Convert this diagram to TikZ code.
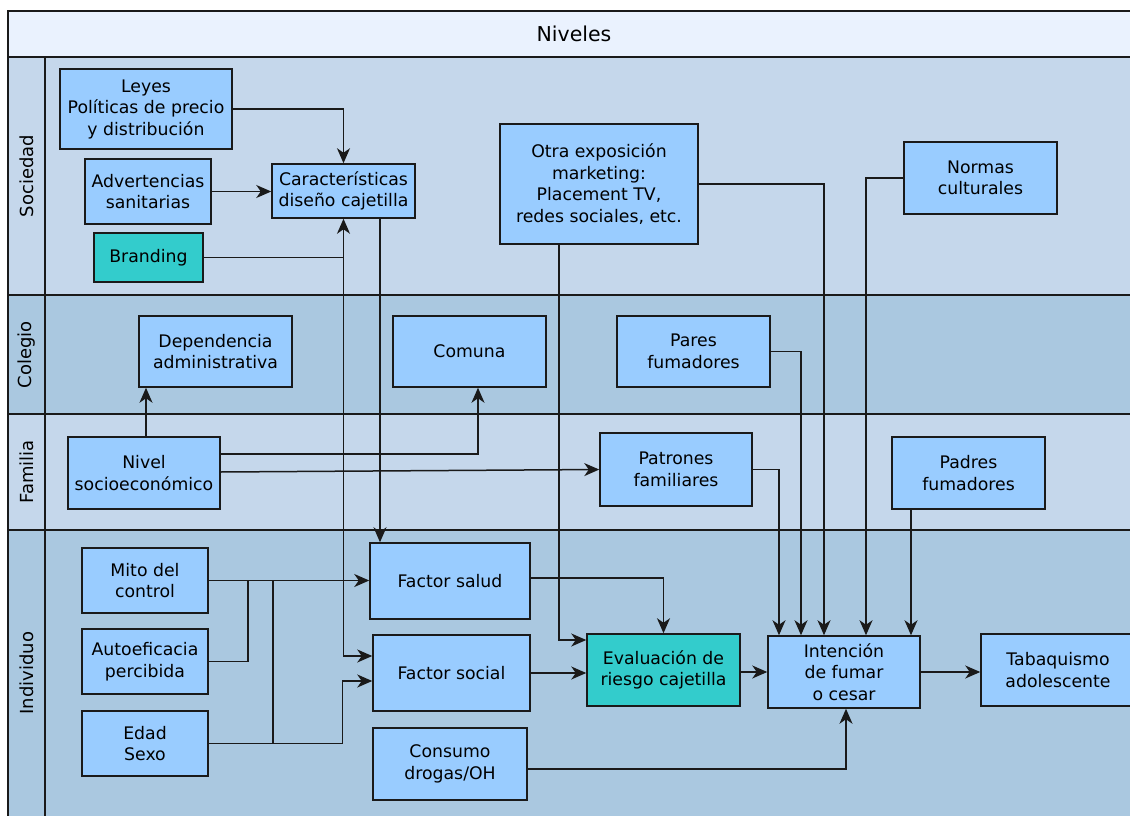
\documentclass[tikz,border=0pt]{standalone}
\usepackage{fontspec}
\setmainfont{DejaVu Sans}
\usetikzlibrary{arrows.meta,calc}
\definecolor{hdrfill}{HTML}{EAF2FE}
\definecolor{lanelight}{HTML}{C5D7EB}
\definecolor{lanedark}{HTML}{AAC8E0}
\definecolor{boxfill}{HTML}{99CCFF}
\definecolor{tealfill}{HTML}{33CCCC}
\definecolor{edge}{HTML}{1A1A1A}
\tikzset{
  box/.style={draw=edge, line width=1.5pt, fill=boxfill, inner sep=0pt, align=center,
    text=black, font=\fontsize{17.3}{21.5}\selectfont},
  hl/.style={box, fill=tealfill},
  link/.style={draw=edge, line width=1.5pt},
  flow/.style={link, -{Stealth[length=15pt, width=13pt, inset=4.5pt]}},
  lanetitle/.style={rotate=90, font=\fontsize{18}{22}\selectfont},
  sep/.style={draw=edge, line width=2pt}
}
\begin{document}
\begin{tikzpicture}[x=1pt, y=-1pt]
\useasboundingbox (0,0) rectangle (1130,816);
\clip (0,0) rectangle (1130,816);
\fill[white] (0,0) rectangle (1130,816);

% pool header and lanes
\fill[hdrfill]   (8,11)  rectangle (1141,57);
\fill[lanelight] (8,57)  rectangle (1141,295);
\fill[lanedark]  (8,295) rectangle (1141,414);
\fill[lanelight] (8,414) rectangle (1141,530);
\fill[lanedark]  (8,530) rectangle (1141,830);
\draw[sep] (8,830) -- (8,11) -- (1141,11);
\draw[sep] (8,57) -- (1141,57);
\draw[sep] (8,295) -- (1141,295);
\draw[sep] (8,414) -- (1141,414);
\draw[sep] (8,530) -- (1141,530);
\draw[sep] (45,57) -- (45,830);

\node[font=\fontsize{20.5}{24}\selectfont] (titulo) at (574,34) {Niveles};
\node[lanetitle] (lsoc) at (27,176) {Sociedad};
\node[lanetitle] (lcol) at (27,355) {Colegio};
\node[lanetitle] (lfam) at (27,472) {Familia};
\node[lanetitle] (lind) at (27,673) {Individuo};

% Sociedad
\node[box, minimum width=172, minimum height=80] (leyes) at (146,109)
  {Leyes\\Políticas de precio\\y distribución};
\node[box, minimum width=126, minimum height=65] (advert) at (148,191.5)
  {Advertencias\\sanitarias};
\node[hl, minimum width=109, minimum height=49] (branding) at (148.5,257.5) {Branding};
\node[box, minimum width=143, minimum height=54] (caract) at (343.5,191)
  {Características\\diseño cajetilla};
\node[box, minimum width=198, minimum height=120] (otra) at (599,184)
  {Otra exposición\\marketing:\\Placement TV,\\redes sociales, etc.};
\node[box, minimum width=153, minimum height=72] (normas) at (980.5,178)
  {Normas\\culturales};

% Colegio
\node[box, minimum width=153, minimum height=71] (depend) at (215.5,351.5)
  {Dependencia\\administrativa};
\node[box, minimum width=153, minimum height=71] (comuna) at (469.5,351.5) {Comuna};
\node[box, minimum width=153, minimum height=71] (pares) at (693.5,351.5)
  {Pares\\fumadores};

% Familia
\node[box, minimum width=152, minimum height=72] (nivel) at (144,473)
  {Nivel\\socioeconómico};
\node[box, minimum width=152, minimum height=73] (patrones) at (676,469.5)
  {Patrones\\familiares};
\node[box, minimum width=153, minimum height=72] (padres) at (968.5,473)
  {Padres\\fumadores};

% Individuo
\node[box, minimum width=126, minimum height=65] (mito) at (145,580.5) {Mito del\\control};
\node[box, minimum width=126, minimum height=65] (autoef) at (145,661.5)
  {Autoeficacia\\percibida};
\node[box, minimum width=126, minimum height=65] (edad) at (145,743.5) {Edad\\Sexo};
\node[box, minimum width=160, minimum height=76] (fsalud) at (450,581) {Factor salud};
\node[box, minimum width=157, minimum height=76] (fsocial) at (451.5,673) {Factor social};
\node[box, minimum width=154, minimum height=72] (consumo) at (450,764)
  {Consumo\\drogas/OH};
\node[hl, minimum width=153, minimum height=72] (evalua) at (663.5,670)
  {Evaluación de\\riesgo cajetilla};
\node[box, minimum width=152, minimum height=72] (intencion) at (844,672)
  {Intención\\de fumar\\o cesar};
\node[box, minimum width=154, minimum height=72] (tabaq) at (1058,670)
  {Tabaquismo\\adolescente};

% Sociedad links
\draw[flow] (leyes.east) -| (caract.north);
\draw[flow] (advert.east) -- (caract.west |- advert.east);
\draw[flow] (branding.east) -| (caract.south);
\draw[flow] (branding.east -| caract.south) |- ([yshift=17pt]fsocial.west);
\draw[flow] ([xshift=36.5pt]caract.south) -- ([xshift=36.5pt]caract.south |- fsalud.north);
\draw[flow] ([xshift=-40pt]otra.south) |- ([yshift=30pt]evalua.west);
\draw[flow] (otra.east) -| ([xshift=-20pt]intencion.north);
\draw[flow] (normas.west) -| ([xshift=22pt]intencion.north);

% Colegio and Familia links
\draw[flow] (pares.east) -| ([xshift=-43pt]intencion.north);
\draw[flow] (patrones.east) -| ([xshift=-65pt]intencion.north);
\draw[flow] ([xshift=-57.5pt]padres.south) -- ([xshift=-57.5pt]padres.south |- intencion.north);
\draw[flow] ([xshift=2pt]nivel.north) -- ([xshift=2pt]nivel.north |- depend.south);
\draw[flow] ([yshift=19pt]nivel.east) -| ([xshift=8.5pt]comuna.south);
\draw[flow] ([yshift=1pt]nivel.east) -- (patrones.west);

% Individuo links
\draw[flow] (mito.east) -- (fsalud.west |- mito.east);
\draw[link] (autoef.east) -| ([xshift=39pt]mito.east);
\draw[link] ([xshift=64pt]edad.east) -- ([xshift=64pt]mito.east);
\draw[flow] (edad.east) -| ([xshift=-30pt,yshift=-8pt]fsocial.west) -- ([yshift=-8pt]fsocial.west);
\draw[flow] ([yshift=3pt]fsalud.east) -| (evalua.north);
\draw[flow] (fsocial.east) -- (evalua.west |- fsocial.east);
\draw[flow] (evalua.east |- intencion.west) -- (intencion.west);
\draw[flow] (intencion.east) -- (tabaq.west |- intencion.east);
\draw[flow] ([yshift=-5pt]consumo.east) -| ([xshift=2pt]intencion.south);
\end{tikzpicture}
\end{document}
